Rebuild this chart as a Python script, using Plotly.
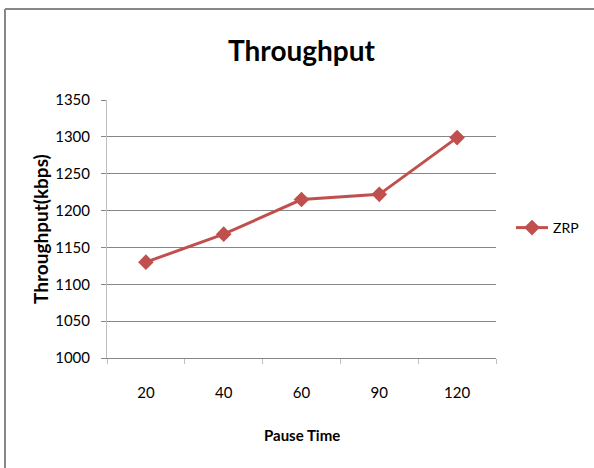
import plotly.graph_objects as go

pause_time = ["20", "40", "60", "90", "120"]
zrp_throughput = [1130, 1168, 1215, 1222, 1299]
y_ticks = [1000, 1050, 1100, 1150, 1200, 1250, 1300, 1350]

W, H = 594, 468
L, R, T, B = 107, 98, 100, 110
pw, ph = W - L - R, H - T - B

def px(x):
    return (x - L) / pw

def py(y):
    return (H - B - y) / ph

FONT = "Lato"
RED = "#C0504D"

fig = go.Figure()
fig.add_trace(go.Scatter(
    x=pause_time, y=zrp_throughput, name="ZRP", mode="lines+markers",
    line=dict(color=RED, width=3),
    marker=dict(symbol="diamond", size=12, color=RED),
))

fig.update_layout(
    width=W, height=H,
    margin=dict(l=L, r=R, t=T, b=B, autoexpand=False),
    paper_bgcolor="white", plot_bgcolor="white",
    font=dict(family=FONT, color="#000000"),
    showlegend=True,
    legend=dict(x=px(511), y=py(228), xanchor="left", yanchor="middle",
                font=dict(size=14, family=FONT), bgcolor="rgba(0,0,0,0)",
                itemwidth=32),
    xaxis=dict(type="category", range=[-0.5, len(pause_time) - 0.5],
               showgrid=False, showline=True,
               linecolor="#878787", linewidth=1,
               ticks="outside", tickson="boundaries", ticklen=5,
               tickcolor="#BFBFBF", tickfont=dict(size=15, family=FONT),
               ticklabelstandoff=21),
    yaxis=dict(range=[1000, 1350], tickvals=y_ticks, showgrid=True,
               gridcolor="#878787", gridwidth=1, zeroline=False,
               showline=True, linecolor="#BFBFBF", linewidth=1,
               ticks="outside", ticklen=5, tickcolor="#878787",
               tickfont=dict(size=15, family=FONT), ticklabelstandoff=8),
    annotations=[
        dict(text="<b>Throughput</b>", x=px(302), y=py(50), xref="paper", yref="paper",
             showarrow=False, font=dict(size=28, family=FONT), xanchor="center", yanchor="middle"),
        dict(text="<b>Pause Time</b>", x=px(302), y=py(435), xref="paper", yref="paper",
             showarrow=False, font=dict(size=15, family=FONT), xanchor="center", yanchor="middle"),
        dict(text="<b>Throughput(kbps)</b>", x=px(40), y=py(229), xref="paper", yref="paper",
             showarrow=False, textangle=-90, font=dict(size=19, family=FONT),
             xanchor="center", yanchor="middle"),
    ],
    shapes=[
        dict(type="line", xref="paper", yref="paper", x0=px(5), x1=px(5), y0=py(9), y1=py(480),
             line=dict(color="#888888", width=2)),
        dict(type="line", xref="paper", yref="paper", x0=px(5), x1=px(600), y0=py(9), y1=py(9),
             line=dict(color="#888888", width=2)),
    ],
)

fig.write_html("out.html")
